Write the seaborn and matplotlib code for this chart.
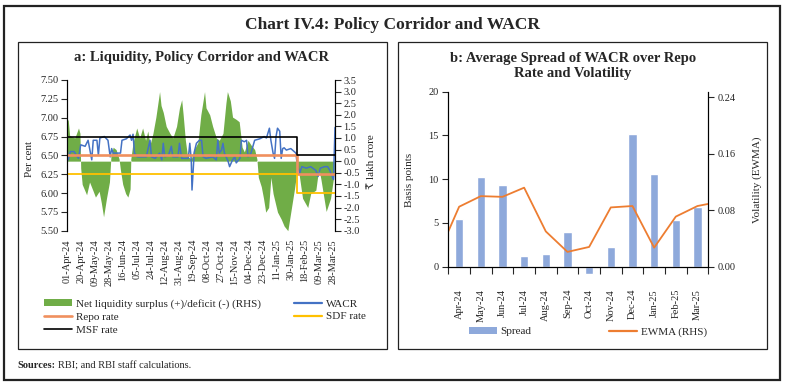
import matplotlib
matplotlib.use("Agg")
import matplotlib.pyplot as plt
import matplotlib.dates as mdates
from matplotlib.patches import Rectangle, Patch
from matplotlib.lines import Line2D
import seaborn as sns
import pandas as pd
import numpy as np

# ---- panel a data ----
wacr_dates = [
    "2024-04-01", "2024-04-03", "2024-04-06", "2024-04-11", "2024-04-17", "2024-04-20",
    "2024-04-26", "2024-04-30", "2024-05-05", "2024-05-07", "2024-05-12", "2024-05-14",
    "2024-05-16", "2024-05-22", "2024-05-27", "2024-05-30", "2024-06-01", "2024-06-03",
    "2024-06-10", "2024-06-13", "2024-06-15", "2024-06-21", "2024-06-26", "2024-06-28",
    "2024-06-30", "2024-07-02", "2024-07-06", "2024-07-11", "2024-07-18", "2024-07-20",
    "2024-07-23", "2024-07-25", "2024-07-30", "2024-08-05", "2024-08-08", "2024-08-10",
    "2024-08-12", "2024-08-17", "2024-08-21", "2024-08-23", "2024-08-30", "2024-09-01",
    "2024-09-04", "2024-09-13", "2024-09-15", "2024-09-17", "2024-09-18", "2024-09-21",
    "2024-09-24", "2024-09-28", "2024-10-01", "2024-10-03", "2024-10-07", "2024-10-16",
    "2024-10-21", "2024-10-23", "2024-10-25", "2024-10-28", "2024-10-30", "2024-11-01",
    "2024-11-06", "2024-11-08", "2024-11-12", "2024-11-15", "2024-11-17", "2024-11-22",
    "2024-11-24", "2024-11-28", "2024-12-01", "2024-12-03", "2024-12-07", "2024-12-12",
    "2024-12-19", "2024-12-25", "2024-12-28", "2025-01-01", "2025-01-03", "2025-01-06",
    "2025-01-08", "2025-01-10", "2025-01-12", "2025-01-15", "2025-01-17", "2025-01-19",
    "2025-01-21", "2025-01-24", "2025-01-30", "2025-02-06", "2025-02-07", "2025-02-11",
    "2025-02-14", "2025-02-20", "2025-02-26", "2025-03-05", "2025-03-08", "2025-03-11",
    "2025-03-17", "2025-03-21", "2025-03-24", "2025-03-28", "2025-03-29", "2025-03-31",
]
wacr = [
    6.64, 6.44, 6.55, 6.55, 6.46, 6.64,
    6.62, 6.70, 6.44, 6.70, 6.70, 6.50,
    6.73, 6.75, 6.70, 6.48, 6.59, 6.53,
    6.53, 6.53, 6.70, 6.72, 6.77, 6.70,
    6.78, 6.53, 6.48, 6.48, 6.48, 6.57,
    6.70, 6.48, 6.46, 6.53, 6.44, 6.66,
    6.48, 6.50, 6.62, 6.48, 6.48, 6.66,
    6.46, 6.46, 6.66, 6.44, 6.04, 6.54,
    6.66, 6.70, 6.70, 6.48, 6.46, 6.48,
    6.44, 6.70, 6.53, 6.57, 6.66, 6.53,
    6.42, 6.35, 6.44, 6.48, 6.40, 6.46,
    6.70, 6.68, 6.70, 6.48, 6.53, 6.70,
    6.72, 6.75, 6.73, 6.86, 6.70, 6.53,
    6.46, 6.75, 6.86, 6.82, 6.46, 6.59,
    6.60, 6.57, 6.59, 6.53, 6.44, 6.26,
    6.35, 6.33, 6.35, 6.30, 6.22, 6.33,
    6.35, 6.35, 6.30, 6.20, 6.18, 6.87,
]

liq_dates = [
    "2024-04-01", "2024-04-03", "2024-04-05", "2024-04-12", "2024-04-17", "2024-04-19",
    "2024-04-20", "2024-04-22", "2024-04-26", "2024-04-28", "2024-05-02", "2024-05-07",
    "2024-05-10", "2024-05-15", "2024-05-18", "2024-05-21", "2024-05-25", "2024-05-29",
    "2024-05-31", "2024-06-03", "2024-06-07", "2024-06-11", "2024-06-13", "2024-06-16",
    "2024-06-20", "2024-06-23", "2024-06-26", "2024-06-27", "2024-06-30", "2024-07-05",
    "2024-07-09", "2024-07-13", "2024-07-17", "2024-07-20", "2024-07-23", "2024-07-27",
    "2024-07-31", "2024-08-05", "2024-08-07", "2024-08-10", "2024-08-14", "2024-08-19",
    "2024-08-23", "2024-08-28", "2024-09-01", "2024-09-04", "2024-09-06", "2024-09-09",
    "2024-09-12", "2024-09-17", "2024-09-21", "2024-09-26", "2024-09-30", "2024-10-05",
    "2024-10-07", "2024-10-12", "2024-10-16", "2024-10-21", "2024-10-25", "2024-10-30",
    "2024-11-03", "2024-11-05", "2024-11-09", "2024-11-12", "2024-11-17", "2024-11-21",
    "2024-11-25", "2024-11-28", "2024-12-03", "2024-12-07", "2024-12-12", "2024-12-15",
    "2024-12-17", "2024-12-21", "2024-12-24", "2024-12-27", "2024-12-31", "2025-01-03",
    "2025-01-06", "2025-01-09", "2025-01-12", "2025-01-17", "2025-01-21", "2025-01-26",
    "2025-01-30", "2025-02-04", "2025-02-08", "2025-02-10", "2025-02-15", "2025-02-22",
    "2025-02-26", "2025-03-05", "2025-03-09", "2025-03-12", "2025-03-19", "2025-03-25",
    "2025-03-30",
]
liquidity = [
    1.70, 1.80, 1.10, 1.00, 1.43, 1.20,
    -0.30, -1.00, -1.30, -1.45, -0.90, -1.30,
    -1.55, -1.30, -1.80, -2.40, -1.60, -0.90,
    0.20, 0.60, 0.50, 0.10, -0.40, -1.00,
    -1.40, -1.55, -1.20, 0.10, 0.80, 1.43,
    1.00, 1.43, 0.90, 1.30, 0.70, 1.20,
    1.90, 3.00, 2.40, 2.10, 1.50, 1.20,
    1.00, 1.50, 2.30, 2.65, 2.00, 0.90,
    0.20, 0.10, 0.50, 0.80, 2.00, 3.00,
    2.30, 2.00, 1.50, 1.00, 0.90, 1.20,
    2.50, 3.00, 2.60, 1.90, 1.80, 1.70,
    0.60, 0.40, 0.90, 0.70, 0.50, 0.10,
    -0.70, -1.10, -1.60, -2.20, -2.00, -0.70,
    -1.40, -1.80, -2.20, -2.50, -2.80, -3.00,
    -2.20, -1.20, -0.30, -0.50, -1.60, -2.00,
    -1.40, -1.25, -0.30, -0.80, -2.17, -1.60,
    -0.50,
]

rate_dates = ["2024-04-01", "2025-02-07", "2025-03-31"]
repo_rate = [6.50, 6.25, 6.25]
sdf_rate = [6.25, 6.00, 6.00]
msf_rate = [6.75, 6.50, 6.50]

# ---- panel b data ----
months = ["Apr-24", "May-24", "Jun-24", "Jul-24", "Aug-24", "Sep-24",
          "Oct-24", "Nov-24", "Dec-24", "Jan-25", "Feb-25", "Mar-25"]
spread = [5.5, 10.2, 9.3, 1.2, 1.5, 4.0, -0.8, 2.2, 15.2, 10.6, 5.3, 6.8]
ewma = [0.085, 0.100, 0.099, 0.112, 0.050, 0.021, 0.028, 0.084, 0.086, 0.027, 0.071, 0.086]
ewma_start = 0.050
ewma_end = 0.089

GREEN = "#70AD47"
BLUE = "#4472C4"
ORANGE = "#F0905E"
YELLOW = "#FFC000"
BAR = "#8EA9DB"
EWMA_C = "#ED7D31"

sns.set_style("white")
plt.rcParams["font.family"] = ["Liberation Serif", "DejaVu Serif"]

W, H = 785, 385
fig = plt.figure(figsize=(W / 100, H / 100), dpi=100)


def fx(px):
    return px / W


def fy(py):
    return (H - py) / H


# frames
fig.patches.append(Rectangle((fx(4), fy(380)), fx(776), 374 / H, transform=fig.transFigure,
                             fill=False, edgecolor="#222222", linewidth=1.6))
for x0 in (18, 398):
    fig.patches.append(Rectangle((fx(x0), fy(349)), fx(369), 307 / H, transform=fig.transFigure,
                                 fill=False, edgecolor="#222222", linewidth=0.9))

fig.text(0.5, fy(25), "Chart IV.4: Policy Corridor and WACR", ha="center", va="center",
         fontsize=12.5, fontweight="bold")

# ---------------- panel a ----------------
df_w = pd.DataFrame({"date": pd.to_datetime(wacr_dates), "wacr": wacr})
df_l = pd.DataFrame({"date": pd.to_datetime(liq_dates), "liq": liquidity})
df_r = pd.DataFrame({"date": pd.to_datetime(rate_dates), "repo": repo_rate,
                     "sdf": sdf_rate, "msf": msf_rate})

ax = fig.add_axes([fx(66.7), fy(230.7), fx(335 - 66.7), (230.7 - 80) / H])
ax2 = ax.twinx()
ax.set_zorder(ax2.get_zorder() + 1)
ax.patch.set_visible(False)

ax2.fill_between(df_l["date"], 0, df_l["liq"], color=GREEN, linewidth=0)
ax2.set_ylim(-3.0, 3.5)
ax2.set_yticks(np.arange(-3.0, 3.51, 0.5))
ax2.set_yticklabels([f"{v:.1f}" for v in np.arange(-3.0, 3.51, 0.5)])

sns.lineplot(data=df_w, x="date", y="wacr", color=BLUE, linewidth=1.1, ax=ax)
ax.plot(df_r["date"], df_r["repo"], drawstyle="steps-post", color=ORANGE, linewidth=1.9)
ax.plot(df_r["date"], df_r["sdf"], drawstyle="steps-post", color=YELLOW, linewidth=1.3)
ax.plot(df_r["date"], df_r["msf"], drawstyle="steps-post", color="black", linewidth=1.2)

ax.set_ylim(5.5, 7.5)
ax.set_yticks(np.arange(5.5, 7.51, 0.25))
ax.set_yticklabels([f"{v:.2f}" for v in np.arange(5.5, 7.51, 0.25)])
ax.set_xlim(pd.Timestamp("2024-04-01"), pd.Timestamp("2025-03-31"))
ax.set_xticks(pd.date_range("2024-04-01", "2025-03-28", freq="19D"))
ax.xaxis.set_major_formatter(mdates.DateFormatter("%d-%b-%y"))
ax.set_xlabel("")
ax.set_ylabel("")
for a in (ax, ax2):
    a.spines["top"].set_visible(False)
    a.spines["bottom"].set_visible(False)
    a.spines["left"].set_color("black")
    a.spines["right"].set_color("black")
ax.tick_params(axis="x", labelrotation=90, labelsize=7.5, length=0, pad=6)
ax.tick_params(axis="y", left=True, direction="out", length=4, width=0.8, labelsize=7.5, pad=2)
ax2.tick_params(axis="y", right=True, direction="out", length=4, width=0.8, labelsize=7.5, pad=2)
ax.grid(False)
ax2.grid(False)

fig.text(fx(201), fy(58), "a: Liquidity, Policy Corridor and WACR", ha="center", va="center",
         fontsize=10.5, fontweight="bold")
fig.text(fx(30), fy(159), "Per cent", rotation=90, ha="center", va="center", fontsize=8)
fig.text(fx(372), fy(162), "₹ lakh crore", rotation=90, ha="center", va="center", fontsize=8)

handles_a = [
    Patch(facecolor=GREEN, edgecolor="none"),
    Line2D([0], [0], color=ORANGE, linewidth=1.9),
    Line2D([0], [0], color="black", linewidth=1.2),
    Line2D([0], [0], color=BLUE, linewidth=1.6),
    Line2D([0], [0], color=YELLOW, linewidth=1.6),
]
labels_a = ["Net liquidity surplus (+)/deficit (-) (RHS)", "Repo rate", "MSF rate", "WACR", "SDF rate"]
fig.legend(handles_a, labels_a, loc="upper left", bbox_to_anchor=(fx(44), fy(299)), ncol=2,
           frameon=False, fontsize=8, handlelength=2.5, handleheight=0.6, handletextpad=0.35,
           labelspacing=0.3, columnspacing=3.0, borderpad=0, borderaxespad=0)

# ---------------- panel b ----------------
df_b = pd.DataFrame({"month": months, "spread": spread})
axb = fig.add_axes([fx(448.3), fy(266.7), fx(708.3 - 448.3), (266.7 - 91.7) / H])
sns.barplot(data=df_b, x="month", y="spread", color=BAR, saturation=1, width=0.38, ax=axb)
for p in axb.patches:
    p.set_clip_on(False)
axb.set_ylim(0, 20)
axb.set_yticks([0, 5, 10, 15, 20])
axb.set_xlim(-0.5, 11.5)
axb.set_xlabel("")
axb.set_ylabel("")

axb2 = axb.twinx()
x_line = [-0.5] + list(range(len(months))) + [len(months) - 0.5]
y_line = [ewma_start] + ewma + [ewma_end]
axb2.plot(x_line, y_line, color=EWMA_C, linewidth=1.3)
axb2.set_ylim(0, 0.248)
axb2.set_yticks([0.0, 0.08, 0.16, 0.24])
axb2.set_yticklabels(["0.00", "0.08", "0.16", "0.24"])
axb2.set_xlim(-0.5, 11.5)

for a in (axb, axb2):
    a.spines["top"].set_visible(False)
    for s in ("left", "right", "bottom"):
        a.spines[s].set_color("black")
        a.spines[s].set_linewidth(0.8)
    a.grid(False)
axb.set_xticks(np.arange(-0.5, 12, 1), minor=True)
axb.tick_params(axis="x", which="major", length=0, labelrotation=90, labelsize=7.5, pad=16)
axb.tick_params(axis="x", which="minor", bottom=True, direction="out", length=5, width=0.8)
axb.tick_params(axis="y", left=True, direction="out", length=4, width=0.8, labelsize=7.5, pad=3)
axb2.tick_params(axis="y", right=True, direction="out", length=4, width=0.8, labelsize=7.5, pad=3)

fig.text(fx(573), fy(66), "b: Average Spread of WACR over Repo\nRate and Volatility", ha="center",
         va="center", fontsize=10.5, fontweight="bold", linespacing=1.15)
fig.text(fx(410), fy(180), "Basis points", rotation=90, ha="center", va="center", fontsize=8)
fig.text(fx(757), fy(180), "Volatility (EWMA)", rotation=90, ha="center", va="center", fontsize=8)

handles_b = [Patch(facecolor=BAR, edgecolor="none"), Line2D([0], [0], color=EWMA_C, linewidth=1.6)]
fig.legend(handles_b, ["Spread", "EWMA (RHS)"], loc="upper left", bbox_to_anchor=(fx(469), fy(327)),
           ncol=2, frameon=False, fontsize=8, handlelength=2.5, handleheight=0.6, handletextpad=0.35,
           columnspacing=7.0, borderpad=0, borderaxespad=0)

# sources: bold lead-in followed by plain text
src_bold = fig.text(fx(17), fy(366), "Sources:", ha="left", va="center", fontsize=7.5,
                    fontweight="bold")
fig.canvas.draw()
bb = src_bold.get_window_extent(renderer=fig.canvas.get_renderer())
fig.text(bb.x1 / W + fx(2.5), fy(366), "RBI; and RBI staff calculations.", ha="left", va="center",
         fontsize=7.5)

fig.savefig("out.png", dpi=100)
